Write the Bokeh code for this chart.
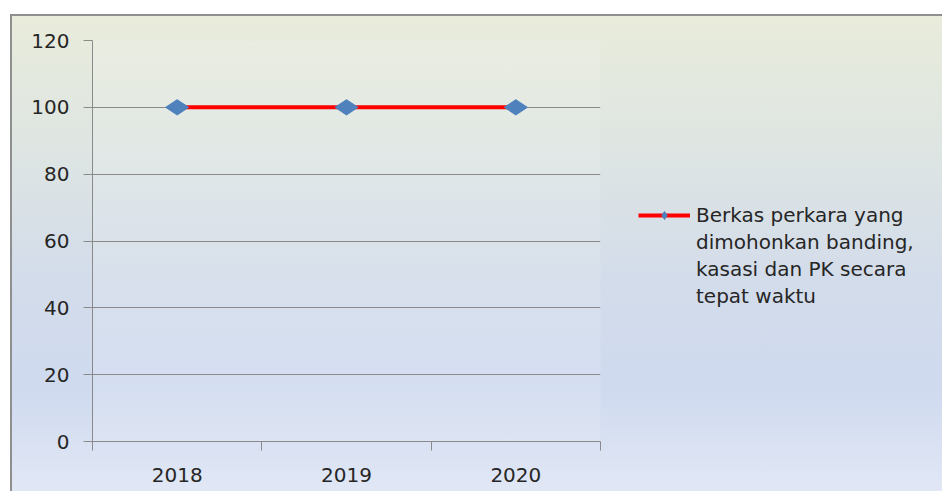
from bokeh.plotting import figure
from bokeh.models import FixedTicker, Legend, LegendItem, Range1d
from bokeh.embed import file_html
from bokeh.resources import INLINE
import math

years = ["2018", "2019", "2020"]
values = [100, 100, 100]
y_ticks = [0, 20, 40, 60, 80, 100, 120]
series_lines = ["Berkas perkara yang", "dimohonkan banding,", "kasasi dan PK secara", "tepat waktu"]

xs = [i + 0.5 for i in range(len(years))]

FONT = "DejaVu Sans"
TXT = "#262626"
AX = "#8a8a8a"
BLUE = "#4f81bd"

p = figure(width=930, height=475, frame_width=508, frame_height=401,
           output_backend="svg", toolbar_location=None,
           x_range=Range1d(0, len(years)), y_range=Range1d(0, 120),
           min_border_left=80, min_border_right=0, min_border_top=24, min_border_bottom=50)
p.styles = {
    "margin-left": "10px", "margin-top": "14px",
    "border-left": "2px solid #8f8f8f", "border-top": "2px solid #8f8f8f",
    "background": "linear-gradient(to bottom, #e9ecdb 0%, #e0e7e1 22%, #d3dcea 55%, #cfdaef 78%, #e1e7f5 100%)",
}
p.border_fill_color = None
p.background_fill_color = "#ffffff"
p.background_fill_alpha = 0.12
p.outline_line_color = None

# axes
p.xaxis.ticker = FixedTicker(ticks=xs, minor_ticks=list(range(len(years) + 1)))
p.xaxis.major_label_overrides = {x: y for x, y in zip(xs, years)}
p.xaxis.major_tick_out = 0
p.xaxis.major_tick_in = 0
p.xaxis.minor_tick_out = 9
p.xaxis.minor_tick_in = 0
p.xaxis.minor_tick_line_color = AX
p.xaxis.major_label_standoff = 17
p.xaxis.axis_line_color = AX

p.yaxis.ticker = FixedTicker(ticks=y_ticks)
p.yaxis.major_tick_out = 9
p.yaxis.major_tick_in = 0
p.yaxis.minor_tick_line_color = None
p.yaxis.major_label_standoff = 14
p.yaxis.axis_line_color = AX
for ax in (p.xaxis, p.yaxis):
    ax.major_tick_line_color = AX
    ax.major_label_text_font = FONT
    ax.major_label_text_font_size = "20px"
    ax.major_label_text_color = TXT

p.xgrid.grid_line_color = None
p.ygrid.grid_line_color = AX
p.ygrid.grid_line_width = 1

ln = p.line(xs, values, line_color="#ff0000", line_width=4)
sc = p.scatter(xs, values, marker="diamond", angle=math.pi / 2, size=23,
               fill_color=BLUE, line_color=BLUE)

# blank legend rows carry the wrapped continuation of the series name
blank = p.line([], [], line_alpha=0)

items = [LegendItem(label=series_lines[0], renderers=[ln, sc])]
items += [LegendItem(label=t, renderers=[blank]) for t in series_lines[1:]]

legend = Legend(items=items,
                location=(38, 133), background_fill_alpha=0, border_line_color=None,
                label_text_font=FONT, label_text_font_size="20px", label_text_color=TXT,
                glyph_width=52, glyph_height=20, label_height=20, spacing=3,
                label_standoff=6, padding=0, margin=0)
p.add_layout(legend, "right")

open("out.html", "w").write(file_html(p, INLINE))
